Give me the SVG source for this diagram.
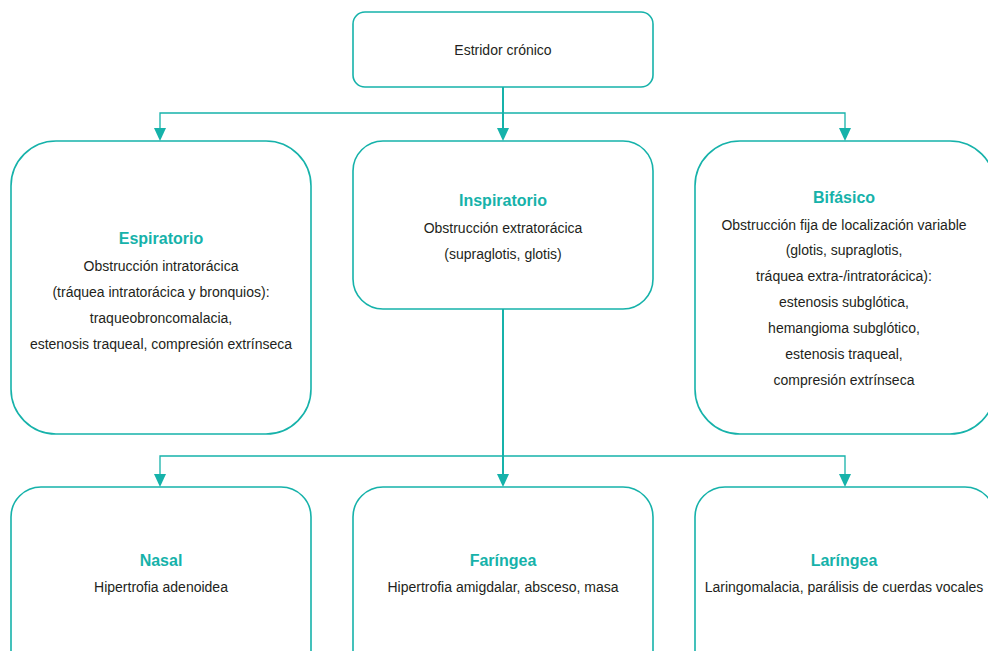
<svg xmlns="http://www.w3.org/2000/svg" width="988" height="651" viewBox="0 0 988 651">
<defs>
<style>
.box{fill:#fff;stroke:#16b2aa;stroke-width:1.6}
.ln{fill:none;stroke:#16b2aa;stroke-width:1.3}
.trunk{fill:none;stroke:#16b2aa;stroke-width:2}
.ah{fill:#16b2aa}
text{font-family:"Liberation Sans","Noto Sans",Arial,sans-serif;text-anchor:middle}
.t{font-size:14px;fill:#231f20}
.h{font-size:16px;font-weight:bold;fill:#16b2aa}
</style>
</defs>
<rect width="988" height="651" fill="#fff"/>
<g id="connectors">
<path class="trunk" d="M503 87V130"/>
<path class="ln" d="M160 128V113H845V128"/>
<path class="ah" d="M154 128H166L160 141Z"/>
<path class="ah" d="M497 128H509L503 141Z"/>
<path class="ah" d="M839 128H851L845 141Z"/>
<path class="trunk" d="M503 309V474"/>
<path class="ln" d="M160 474V456H845V474"/>
<path class="ah" d="M154 474H166L160 487Z"/>
<path class="ah" d="M497 474H509L503 487Z"/>
<path class="ah" d="M839 474H851L845 487Z"/>
</g>
<g id="n-estridor">
<rect class="box" x="353" y="12" width="300" height="75" rx="12"/>
<text class="t" x="503" y="55">Estridor crónico</text>
</g>
<g id="n-espiratorio">
<rect class="box" x="11" y="141" width="300" height="293" rx="45"/>
<text class="h" x="161" y="244">Espiratorio</text>
<text class="t" x="161" y="271">Obstrucción intratorácica</text>
<text class="t" x="161" y="297">(tráquea intratorácica y bronquios):</text>
<text class="t" x="161" y="323">traqueobroncomalacia,</text>
<text class="t" x="161" y="349">estenosis traqueal, compresión extrínseca</text>
</g>
<g id="n-inspiratorio">
<rect class="box" x="353" y="141" width="300" height="168" rx="30"/>
<text class="h" x="503" y="206">Inspiratorio</text>
<text class="t" x="503" y="233">Obstrucción extratorácica</text>
<text class="t" x="503" y="259">(supraglotis, glotis)</text>
</g>
<g id="n-bifasico">
<rect class="box" x="695" y="141" width="300" height="293" rx="45"/>
<text class="h" x="844" y="203">Bifásico</text>
<text class="t" x="844" y="230">Obstrucción fija de localización variable</text>
<text class="t" x="844" y="255">(glotis, supraglotis,</text>
<text class="t" x="844" y="281">tráquea extra-/intratorácica):</text>
<text class="t" x="844" y="307">estenosis subglótica,</text>
<text class="t" x="844" y="333">hemangioma subglótico,</text>
<text class="t" x="844" y="359">estenosis traqueal,</text>
<text class="t" x="844" y="385">compresión extrínseca</text>
</g>
<g id="n-nasal">
<rect class="box" x="11" y="487" width="300" height="220" rx="30"/>
<text class="h" x="161" y="566">Nasal</text>
<text class="t" x="161" y="592">Hipertrofia adenoidea</text>
</g>
<g id="n-faringea">
<rect class="box" x="353" y="487" width="300" height="220" rx="30"/>
<text class="h" x="503" y="566">Faríngea</text>
<text class="t" x="503" y="592">Hipertrofia amigdalar, absceso, masa</text>
</g>
<g id="n-laringea">
<rect class="box" x="695" y="487" width="300" height="220" rx="30"/>
<text class="h" x="844" y="566">Laríngea</text>
<text class="t" x="844" y="592">Laringomalacia, parálisis de cuerdas vocales</text>
</g>
</svg>
